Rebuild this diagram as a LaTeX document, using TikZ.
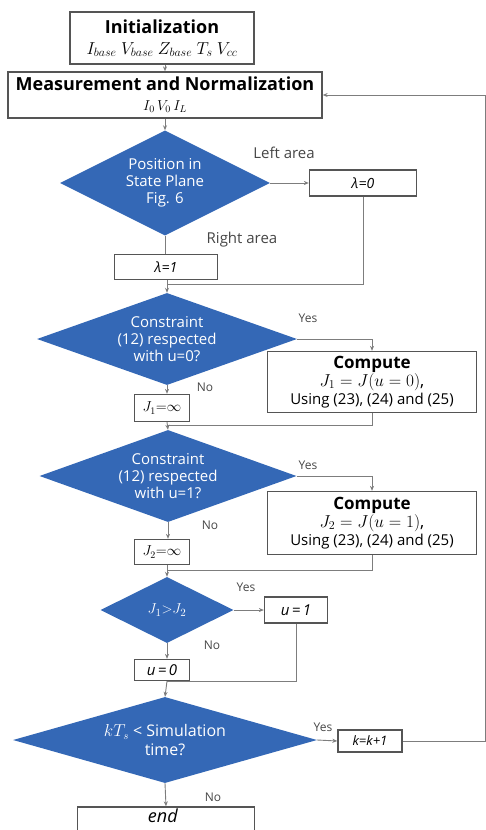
\documentclass[tikz,border=0pt]{standalone}
\usepackage{amsmath,amssymb}
\usepackage{fontspec}
\setmainfont{Open Sans}
\usetikzlibrary{arrows.meta,positioning,calc,shapes.geometric}
\definecolor{decblue}{RGB}{52,104,182}
\definecolor{boxgray}{RGB}{85,85,85}
\definecolor{lngray}{RGB}{125,125,125}
\definecolor{lbgray}{RGB}{70,70,70}
\newcommand{\fs}[2]{\fontsize{#1}{#2}\selectfont}
\tikzset{
  blk/.style={draw=boxgray, line width=1.3pt, fill=white, inner sep=0pt, align=center},
  dec/.style={diamond, fill=decblue, text=white, inner sep=0pt, align=center},
  arr/.style={-{Stealth[length=5pt,width=4pt]}, lngray, line width=0.9pt},
  lnk/.style={lngray, line width=0.9pt},
  ylab/.style={font=\fs{12}{14}, text=lbgray},
  alab/.style={font=\fs{15}{17}, text=lbgray},
}

\begin{document}
\begin{tikzpicture}[x=1pt, y=-1pt]
  \useasboundingbox (0,0) rectangle (486,830);
  % boxes and decisions
  \node[blk, minimum width=184pt, minimum height=52pt, font=\fs{18}{21}] (init) at (162,38)
    {\textbf{Initialization}\\ \fs{17}{19}$I_{base}\ V_{base}\ Z_{base}\ T_s\ V_{cc}$};
  \node[blk, minimum width=314pt, minimum height=46pt, font=\fs{18}{20}] (meas) at (165,95)
    {\textbf{Measurement and Normalization}\\ \fs{14}{16}$I_0\, V_0\, I_L$};
  \node[dec, shape aspect=2, minimum width=210pt, minimum height=105pt, font=\fs{15}{17}] (pos) at (165,183)
    {Position in\\ State Plane\\ Fig. 6};
  \node[blk, minimum width=107pt, minimum height=26pt, font=\fs{14}{16}] (lam0) at (363,183) {\textit{λ=0}};
  \node[blk, minimum width=103pt, minimum height=25pt, font=\fs{14}{16}] (lam1) at (166,267) {\textit{λ=1}};
  \node[dec, shape aspect=2.83, minimum width=260pt, minimum height=92pt, font=\fs{15}{17}] (c0) at (167,339)
    {Constraint\\ (12) respected\\ with u=0?};
  \node[blk, minimum width=209pt, minimum height=61pt, font=\fs{15}{18}] (comp0) at (372,382)
    {\fs{17}{19}\textbf{Compute}\\ \fs{17}{19}$J_1 = J(u = 0)$,\\ \fs{15}{17}Using (23), (24) and (25)};
  \node[blk, minimum width=55pt, minimum height=27pt, font=\fs{14}{16}] (jl) at (162,408) {$J_1{=}\infty$};
  \node[dec, shape aspect=2.8, minimum width=257pt, minimum height=92pt, font=\fs{15}{17}] (c1) at (168,476)
    {Constraint\\ (12) respected\\ with u=1?};
  \node[blk, minimum width=209pt, minimum height=63pt, font=\fs{15}{18}] (comp1) at (372,523)
    {\fs{17}{19}\textbf{Compute}\\ \fs{17}{19}$J_2 = J(u = 1)$,\\ \fs{15}{17}Using (23), (24) and (25)};
  \node[blk, minimum width=55pt, minimum height=25pt, font=\fs{14}{16}] (j2) at (162,552) {$J_2{=}\infty$};
  \node[dec, shape aspect=2, minimum width=133pt, minimum height=66pt, font=\fs{15}{17}] (cmp) at (167,610) {$J_1{>}J_2$};
  \node[blk, minimum width=63pt, minimum height=26pt, font=\fs{15}{17}] (u1) at (296,610) {\textit{u\,=\,1}};
  \node[blk, minimum width=55pt, minimum height=21pt, font=\fs{15}{17}] (u0) at (162,670) {\textit{u\,=\,0}};
  \node[dec, shape aspect=3.53, minimum width=304pt, minimum height=86pt, font=\fs{16}{19}] (sim) at (165,740)
    {$kT_s$ < Simulation\\ time?};
  \node[blk, minimum width=64pt, minimum height=22pt, font=\fs{13}{15}] (kk) at (370,741) {\textit{k=k+1}};
  \node[blk, minimum width=177pt, minimum height=34pt] (endb) at (166,824) {};
  \node[font=\fs{18}{20}, inner sep=0pt] (endt) at (163,816) {\textit{end}};
  % junctions
  \coordinate (j0) at (167,284);
  \coordinate (j1) at (167,425);
  \coordinate (j2c) at (167,570);
  \coordinate (j3) at (167,681);
  \coordinate (rt) at (485,95);
  % connectors
  \draw[arr] (init.south -| meas.north) -- (meas.north);
  \draw[arr] (meas.south) -- (pos.north);
  \draw[arr] (pos.east) -- (lam0.west);
  \draw[lnk] (pos.south) -- (pos.south |- lam1.north);
  \draw[lnk] (lam0.south) |- (j0);
  \draw[arr] (j0 |- lam1.south) -- (c0.north);
  \draw[arr] (c0.east) -| (comp0.north);
  \draw[arr] (c0.south) -- (c0.south |- jl.north);
  \draw[lnk] (comp0.south) |- (j1);
  \draw[arr] (j1 |- jl.south) -- (c1.north);
  \draw[arr] (c1.east) -| (comp1.north);
  \draw[arr] (c1.south) -- (c1.south |- j2.north);
  \draw[lnk] (comp1.south) |- (j2c);
  \draw[arr] (j2c |- j2.south) -- (cmp.north);
  \draw[arr] (cmp.east) -- (u1.west);
  \draw[arr] (cmp.south) -- (cmp.south |- u0.north);
  \draw[lnk] (u1.south) |- (j3);
  \draw[arr] (j3 |- u0.south) -- (sim.north);
  \draw[arr] (sim.east) -- (kk.west);
  \draw[arr] (kk.east) -| (rt) -- (meas.east);
  \draw[arr] (sim.south) -- (endb.north);
  % labels
  \node[alab] (la) at (284,153) {Left area};
  \node[alab] (ra) at (242,240) {Right area};
  \node[ylab] (y0) at (308,318) {Yes};
  \node[ylab] (n0) at (205,387) {No};
  \node[ylab] (y1) at (308,465) {Yes};
  \node[ylab] (n1) at (210,525) {No};
  \node[ylab] (y2) at (246,587) {Yes};
  \node[ylab] (n2) at (212,645) {No};
  \node[ylab] (y3) at (323,727) {Yes};
  \node[ylab] (n3) at (213,797) {No};
\end{tikzpicture}
\end{document}
